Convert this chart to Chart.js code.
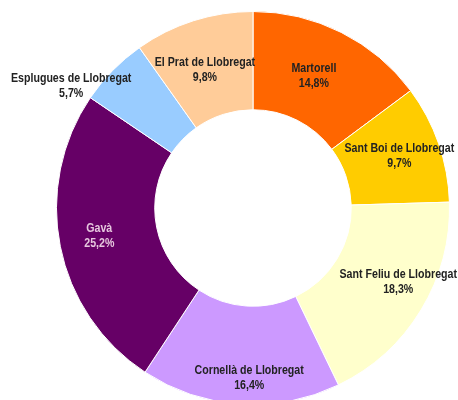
<!DOCTYPE html>
<html>
<head>
<meta charset="utf-8">
<script src="https://cdn.jsdelivr.net/npm/chart.js@4/dist/chart.umd.min.js"></script>
<style>
  html, body { margin: 0; padding: 0; background: #fff; overflow: hidden; }
  #wrap { width: 458px; height: 410px; }
</style>
</head>
<body>
<div id="wrap"><canvas id="donut" width="458" height="410"></canvas></div>
<script>
// ----- DATA -----
const municipis = ['Martorell', 'Sant Boi de Llobregat', 'Sant Feliu de Llobregat', 'Cornellà de Llobregat', 'Gavà', 'Esplugues de Llobregat', 'El Prat de Llobregat'];
const percentatges = [14.8, 9.7, 18.3, 16.4, 25.2, 5.7, 9.8];
const colors = ['#FF6600', '#FFCC00', '#FFFFCC', '#CC99FF', '#660066', '#99CCFF', '#FFCC99'];

// label placement: radial fraction of the ring and small angle nudge (deg)
const labelRadial = [0.48, 0.58, 0.66, 0.73, 0.59, 1.23, 0.49];
const labelNudge = [-1.9, -0.3, -4.2, -2.5, 1.0, -10.5, -1.5];
const labelColors = ['#222', '#222', '#222', '#222', '#E6C6DE', '#222', '#222'];

// no narrow font installed, so squeeze Liberation Sans a bit
const sliceLabels = {
  id: 'sliceLabels',
  afterDatasetsDraw(chart) {
    const ctx = chart.ctx;
    const arcs = chart.getDatasetMeta(0).data;
    arcs.forEach((arc, i) => {
      const p = arc.getProps(['x', 'y', 'startAngle', 'endAngle', 'innerRadius', 'outerRadius'], true);
      const a = (p.startAngle + p.endAngle) / 2 + labelNudge[i] * Math.PI / 180;
      const r = p.innerRadius + labelRadial[i] * (p.outerRadius - p.innerRadius);
      const cx = p.x + r * Math.cos(a);
      const cy = p.y + r * Math.sin(a);
      ctx.save();
      ctx.translate(cx, cy);
      ctx.scale(0.85, 1);
      ctx.font = 'bold 12.5px "Liberation Sans", Arial, sans-serif';
      ctx.textAlign = 'center';
      ctx.textBaseline = 'middle';
      ctx.fillStyle = labelColors[i];
      ctx.fillText(municipis[i], 0, -7.5);
      ctx.fillText(percentatges[i].toFixed(1).replace('.', ',') + '%', 0, 7.5);
      ctx.restore();
    });
  }
};

new Chart(document.getElementById('donut').getContext('2d'), {
  type: 'doughnut',
  data: {
    labels: municipis,
    datasets: [{
      data: percentatges,
      backgroundColor: colors,
      borderColor: '#ffffff',
      borderWidth: 1
    }]
  },
  options: {
    responsive: false,
    animation: false,
    cutout: '50%',
    layout: { padding: { left: 56, right: 8, top: 11, bottom: 5 } },
    plugins: {
      legend: { display: false },
      tooltip: { enabled: false }
    }
  },
  plugins: [sliceLabels]
});
</script>
</body>
</html>
